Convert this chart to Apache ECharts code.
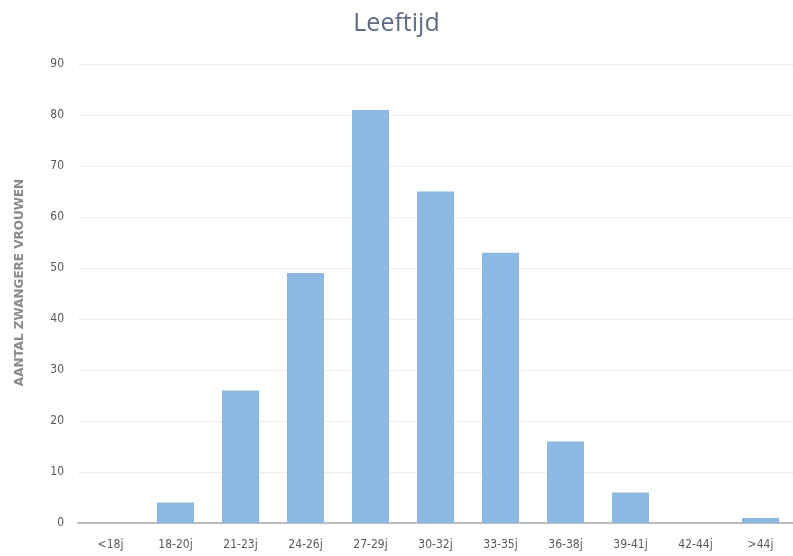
<!DOCTYPE html>
<html>
<head>
<meta charset="utf-8">
<script src="https://cdn.jsdelivr.net/npm/echarts@6/dist/echarts.min.js"></script>
<style>
  html, body { margin: 0; padding: 0; background: #fff; }
  #chart { width: 793px; height: 556px; }
</style>
</head>
<body>
<div id="chart"></div>
<script>
// Age groups and number of pregnant women per group
const categories = ['<18j', '18-20j', '21-23j', '24-26j', '27-29j', '30-32j', '33-35j', '36-38j', '39-41j', '42-44j', '>44j'];
const counts = [0, 4, 26, 49, 81, 65, 53, 16, 6, 0, 1];
const yTicks = { min: 0, max: 90, interval: 10 };

const chart = echarts.init(document.getElementById('chart'));
const labelFont = '"Liberation Sans Narrow", "DejaVu Sans Condensed", sans-serif';

chart.setOption({
  animation: false,
  title: {
    text: 'Leeftijd',
    left: 'center',
    top: 6,
    textStyle: {
      fontFamily: '"Open Sans", sans-serif',
      fontSize: 25,
      fontWeight: 'normal',
      color: '#5f6b82'
    }
  },
  grid: { left: 78, top: 64, width: 718, height: 459, containLabel: false },
  xAxis: {
    type: 'category',
    data: categories,
    axisLine: { lineStyle: { color: '#bfbfbf', width: 2 } },
    axisTick: { show: false },
    axisLabel: { fontFamily: labelFont, fontSize: 12, color: '#595959', margin: 16 }
  },
  yAxis: {
    type: 'value',
    min: yTicks.min,
    max: yTicks.max,
    interval: yTicks.interval,
    name: 'AANTAL ZWANGERE VROUWEN',
    nameLocation: 'middle',
    nameGap: 52,
    nameRotate: 90,
    nameTextStyle: {
      fontFamily: '"DejaVu Sans", sans-serif',
      fontSize: 12,
      fontWeight: 'bold',
      color: '#8a8a8a',
      padding: [0, 0, 0, 22]
    },
    axisLine: { show: false },
    axisTick: { show: false },
    axisLabel: { fontFamily: labelFont, fontSize: 12, color: '#595959', margin: 14 },
    splitLine: { lineStyle: { color: '#ededed', width: 1 } }
  },
  series: [{
    type: 'bar',
    data: counts,
    barWidth: 37,
    itemStyle: { color: '#8cb8e2' }
  }]
});
</script>
</body>
</html>
